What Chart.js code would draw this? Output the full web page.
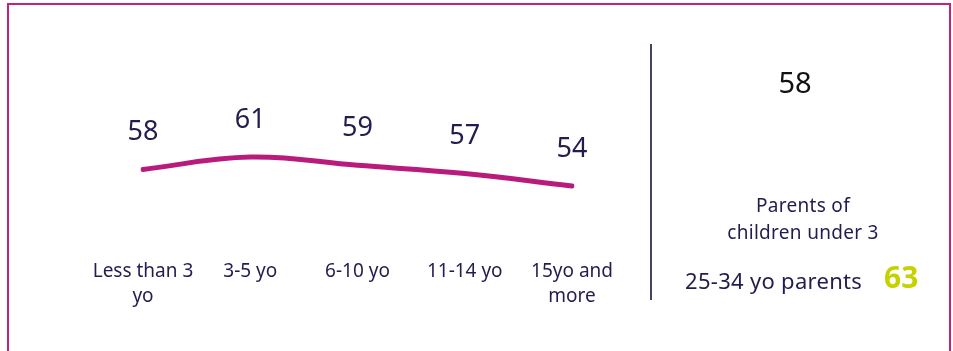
<!DOCTYPE html>
<html>
<head>
<meta charset="utf-8">
<script src="https://cdn.jsdelivr.net/npm/chart.js@4"></script>
<style>
  html, body { margin: 0; padding: 0; background: #fff; }
  body { width: 953px; height: 351px; position: relative; overflow: hidden; font-family: "Noto Sans", sans-serif; color: #231c4d; }
  #frame { position: absolute; left: 7px; top: 3px; width: 940px; height: 360px; border: 2px solid #c2227f; border-bottom: none; }
  #chartWrap { position: absolute; left: 0; top: 3px; width: 953px; height: 351px; }
  #divider { position: absolute; left: 650px; top: 44px; width: 2px; height: 256px; background: #4a4262; }
  .txt { position: absolute; white-space: nowrap; }
  #total { left: 740px; width: 110px; top: 62px; text-align: center; font-size: 29px; color: #111; }
  #segTitle { left: 690px; width: 226px; top: 192px; text-align: center; font-size: 19px; line-height: 27px; letter-spacing: 0.3px; }
  #segLabel { left: 685px; top: 265px; font-size: 22px; letter-spacing: 0.3px; }
  #segValue { left: 884px; top: 256px; font-size: 30px; font-weight: bold; color: #c5d200; }
</style>
</head>
<body>
<div id="frame"></div>
<div id="chartWrap"><canvas id="lineChart" width="953" height="351"></canvas></div>
<div id="divider"></div>
<div class="txt" id="total"></div>
<div class="txt" id="segTitle"></div>
<div class="txt" id="segLabel"></div>
<div class="txt" id="segValue"></div>
<script>
// 자녀 연령대별 점수
const ageGroups = [['Less than 3', 'yo'], '3-5 yo', '6-10 yo', '11-14 yo', ['15yo and', 'more']];
const scores = [58, 61, 59, 57, 54];

// 오른쪽 요약
const totalScore = 58;
const segmentTitle = ['Parents of', 'children under 3'];
const segmentLabel = '25-34 yo parents';
const segmentScore = 63;

document.getElementById('total').textContent = totalScore;
document.getElementById('segTitle').innerHTML = segmentTitle.join('<br>');
document.getElementById('segLabel').textContent = segmentLabel;
document.getElementById('segValue').textContent = segmentScore;

// 값 라벨 그리기
const valueLabels = {
    id: 'valueLabels',
    afterDatasetsDraw(chart) {
        const ctx = chart.ctx;
        const meta = chart.getDatasetMeta(0);
        ctx.save();
        ctx.font = '27px "Noto Sans", sans-serif';
        ctx.fillStyle = '#231c4d';
        ctx.textAlign = 'center';
        ctx.textBaseline = 'middle';
        meta.data.forEach((pt, i) => {
            ctx.fillText(scores[i], pt.x, pt.y - 37);
        });
        ctx.restore();
    }
};

new Chart(document.getElementById('lineChart').getContext('2d'), {
    type: 'line',
    data: {
        labels: ageGroups,
        datasets: [{
            data: scores,
            borderColor: '#b81b7b',
            borderWidth: 5,
            borderCapStyle: 'round',
            tension: 0.4,
            pointRadius: 0,
            fill: false
        }]
    },
    options: {
        responsive: false,
        animation: false,
        layout: { padding: { left: 143, right: 381, top: 117, bottom: 37 } },
        plugins: { legend: { display: false }, tooltip: { enabled: false } },
        scales: {
            y: { display: false, min: 40, max: 70 },
            x: {
                offset: false,
                grid: { display: false },
                border: { display: false },
                ticks: {
                    padding: 8,
                    color: '#231c4d',
                    font: { family: '"Noto Sans", sans-serif', size: 19, lineHeight: 1.3 },
                    maxRotation: 0,
                    autoSkip: false
                }
            }
        }
    },
    plugins: [valueLabels]
});
</script>
</body>
</html>
